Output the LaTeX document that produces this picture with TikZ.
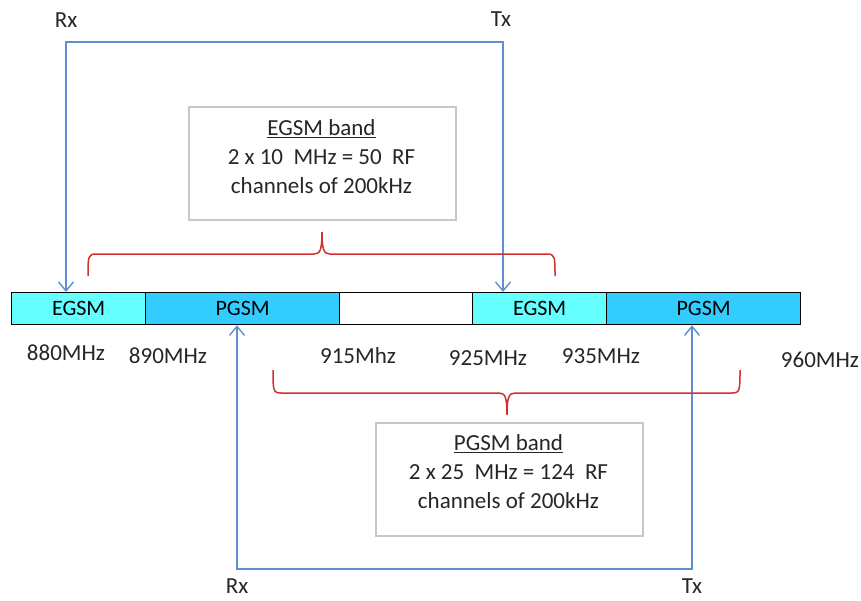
\documentclass[tikz,border=0pt]{standalone}
\usepackage{fontspec}
\setmainfont{Carlito}
\usetikzlibrary{arrows.meta}
\definecolor{egsmc}{HTML}{66FFFF}
\definecolor{pgsmc}{HTML}{33CCFF}
\definecolor{connc}{HTML}{5F8FD0}
\definecolor{bracec}{HTML}{D03030}
\definecolor{boxc}{HTML}{C8C8C8}
\tikzset{
  seg/.style={draw=black,line width=1.3pt,minimum height=32pt,inner sep=0pt,anchor=north west,font=\fontsize{22}{25}\selectfont},
  conn/.style={draw=connc,line width=1.4pt,>={Straight Barb[length=9pt,width=15pt,line width=1.4pt]}},
  bracket/.style={draw=bracec,line width=1.5pt},
  infobox/.style={draw=boxc,line width=1.6pt,inner sep=0pt},
  txt/.style={font=\fontsize{23}{29}\selectfont,inner sep=0pt,text=black!85},
}
\begin{document}
\begin{tikzpicture}[x=1pt,y=-1pt]
\useasboundingbox (0,0) rectangle (861,600);
% bar
\node[seg,fill=egsmc,minimum width=134pt] (eg1) at (11,292) {EGSM};
\node[seg,fill=pgsmc,minimum width=194pt] (pg1) at (145,292) {PGSM};
\node[seg,fill=white,minimum width=133pt] (gap) at (339,292) {};
\node[seg,fill=egsmc,minimum width=134pt] (eg2) at (472,292) {EGSM};
\node[seg,fill=pgsmc,minimum width=194pt] (pg2) at (606,292) {PGSM};
% info boxes
\node[infobox,minimum width=267pt,minimum height=113pt,anchor=north west] (egbox) at (188,106) {};
\node[txt,align=center] (egtext) at (321.5,157) {\underline{EGSM band}\\2 x 10\ \ MHz = 50\ \ RF\\channels of 200kHz};
\node[infobox,minimum width=267pt,minimum height=113pt,anchor=north west] (pgbox) at (375,422) {};
\node[txt,align=center] (pgtext) at (508.5,472) {\underline{PGSM band}\\2 x 25\ \ MHz = 124\ \ RF\\channels of 200kHz};
% frequency labels
\node[txt] (f880) at (66,353) {880MHz};
\node[txt] (f890) at (168,356) {890MHz};
\node[txt] (f915) at (358,356) {915Mhz};
\node[txt] (f925) at (488,358) {925MHz};
\node[txt] (f935) at (601,356) {935MHz};
\node[txt] (f960) at (820,360) {960MHz};
% Rx / Tx labels
\node[txt] (rxtl) at (66,20) {Rx};
\node[txt] (txtl) at (501,19) {Tx};
\node[txt] (rxbl) at (237,586) {Rx};
\node[txt] (txbl) at (692,586) {Tx};
% connectors
\coordinate (rxt) at (66,42);
\coordinate (txt) at (503,42);
\coordinate (rxb) at (237,569);
\coordinate (txb) at (692,569);
\draw[conn,<->] (rxt |- eg1.north) -- (rxt) -- (txt) -- (txt |- eg2.north);
\draw[conn,<->] (rxb |- pg1.south) -- (rxb) -- (txb) -- (txb |- pg2.south);
% brackets
\draw[bracket] (88,276) .. controls (88,257) and (88,254) .. (96,254) -- (314,254)
  .. controls (320,254) and (322,250) .. (322,232)
  .. controls (322,250) and (324,254) .. (330,254) -- (547,254)
  .. controls (555,254) and (555,257) .. (555,276);
\draw[bracket] (273,370) .. controls (273,390) and (273,393) .. (281,393) -- (499,393)
  .. controls (505,393) and (507,397) .. (507,415)
  .. controls (507,397) and (509,393) .. (515,393) -- (732,393)
  .. controls (740,393) and (740,390) .. (740,370);
\end{tikzpicture}
\end{document}
